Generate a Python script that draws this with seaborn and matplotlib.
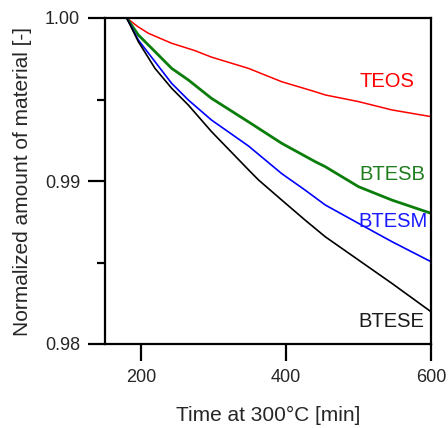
import numpy as np
import pandas as pd
import matplotlib
matplotlib.use("Agg")
import matplotlib.pyplot as plt
import seaborn as sns
from matplotlib.ticker import MultipleLocator

# ---- data ----
teos_x = [180, 195, 210, 242, 274, 297, 348, 394, 440, 454, 500, 546, 600]
teos_y = [1.0000, 0.99948, 0.99906, 0.99845, 0.99800, 0.99760, 0.99691, 0.99609,
          0.99548, 0.99528, 0.99487, 0.99436, 0.99395]

btesb_x = [180, 196, 219, 242, 265, 297, 348, 394, 440, 454, 500, 546, 600]
btesb_y = [1.0000, 0.99896, 0.99794, 0.99691, 0.99620, 0.99507, 0.99363, 0.99231,
           0.99119, 0.99088, 0.98965, 0.98883, 0.98802]

btesm_x = [180, 196, 219, 242, 265, 297, 348, 394, 426, 454, 500, 546, 600]
btesm_y = [1.0000, 0.99865, 0.99732, 0.99599, 0.99497, 0.99374, 0.99215, 0.99045,
           0.98945, 0.98853, 0.98740, 0.98628, 0.98505]

btese_x = [180, 196, 219, 242, 265, 297, 348, 362, 394, 426, 454, 500, 546, 600]
btese_y = [1.0000, 0.99855, 0.99691, 0.99569, 0.99466, 0.99303, 0.99069, 0.99006,
           0.98883, 0.98761, 0.98658, 0.98515, 0.98372, 0.98198]

series_names = ["TEOS", "BTESB", "BTESM", "BTESE"]
series_colors = ["#ff0000", "#0b7d0b", "#0000ff", "#000000"]
label_colors = ["#ff0000", "#1e7e1e", "#1a1aff", "#1a1a1a"]
series_widths = [1.1, 2.0, 1.2, 1.2]

xlabel = "Time at 300°C [min]"
ylabel = "Normalized amount of material [-]"
xticks = [200, 400, 600]
yticks = [0.98, 0.99, 1.00]

# label positions (data coords, baseline)
label_x = [539, 547, 547, 545.5]
label_y = [0.99577, 0.99006, 0.98718, 0.98104]

frames = []
for name, xs, ys in zip(series_names,
                        [teos_x, btesb_x, btesm_x, btese_x],
                        [teos_y, btesb_y, btesm_y, btese_y]):
    frames.append(pd.DataFrame({"time": xs, "amount": ys, "material": name}))
df = pd.concat(frames, ignore_index=True)

sns.set_style("white")
plt.rcParams["font.family"] = ["Liberation Sans", "DejaVu Sans"]

fig = plt.figure(figsize=(4.48, 4.28), dpi=100)
ax = fig.add_axes([105 / 448, 1 - 344 / 428, 326 / 448, 326 / 428])

for name, col, lw in zip(series_names, series_colors, series_widths):
    sub = df[df["material"] == name]
    sns.lineplot(data=sub, x="time", y="amount", color=col, linewidth=lw,
                 sort=False, estimator=None, ax=ax, legend=False)

for name, col, lx, ly in zip(series_names, label_colors, label_x, label_y):
    ax.text(lx, ly, name, color=col, fontsize=14.5, ha="center", va="baseline")

ax.set_xlim(150, 600)
ax.set_ylim(0.98, 1.00)
ax.set_xticks(xticks)
ax.set_xticklabels([str(t) for t in xticks])
ax.set_yticks(yticks)
ax.set_yticklabels([f"{t:.2f}" for t in yticks])
ax.yaxis.set_minor_locator(MultipleLocator(0.005))

ax.set_xlabel(xlabel, fontsize=15, labelpad=14)
ax.set_ylabel(ylabel, fontsize=15, labelpad=9)

for s in ax.spines.values():
    s.set_visible(True)
    s.set_color("black")
    s.set_linewidth(1.6)

ax.tick_params(axis="both", which="major", direction="out", length=12, width=1.6,
               labelsize=13, color="black", pad=6, bottom=True, left=True)
ax.tick_params(axis="y", which="minor", direction="out", length=6, width=1.6,
               color="black", left=True)

fig.savefig("out.png", dpi=100)
